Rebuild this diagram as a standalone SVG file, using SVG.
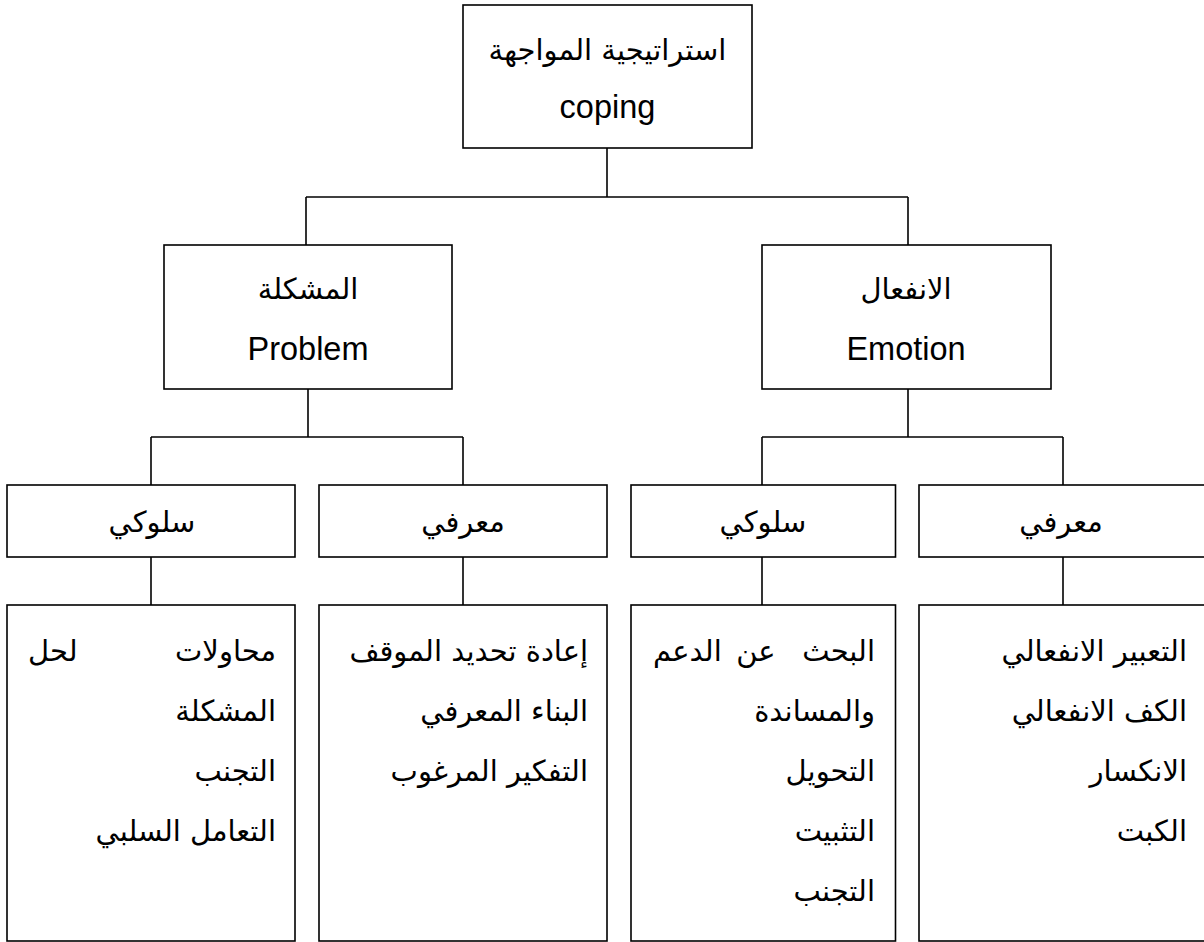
<svg xmlns="http://www.w3.org/2000/svg" width="1204" height="942" viewBox="0 0 1204 942">
<style>
rect.box{fill:#fff;stroke:#000;stroke-width:1.6}
.conn line{stroke:#000;stroke-width:1.6}
.ar{font-family:"DejaVu Sans",sans-serif;font-size:29px;fill:#000}
.en{font-family:"Liberation Sans",Arial,sans-serif;font-size:32.5px;fill:#000}
.c{text-anchor:middle}
.e{text-anchor:end}
.s{text-anchor:start}
</style>
<rect width="1204" height="942" fill="#fff"/>
<g class="conn" id="connectors">
<line x1="607" y1="148" x2="607" y2="197"/>
<line x1="306" y1="197" x2="908" y2="197"/>
<line x1="306" y1="197" x2="306" y2="245"/>
<line x1="908" y1="197" x2="908" y2="245"/>
<line x1="308" y1="389" x2="308" y2="437"/>
<line x1="151" y1="437" x2="463" y2="437"/>
<line x1="151" y1="437" x2="151" y2="485"/>
<line x1="463" y1="437" x2="463" y2="485"/>
<line x1="908" y1="389" x2="908" y2="437"/>
<line x1="762" y1="437" x2="1063" y2="437"/>
<line x1="762" y1="437" x2="762" y2="485"/>
<line x1="1063" y1="437" x2="1063" y2="485"/>
<line x1="151" y1="557" x2="151" y2="605"/>
<line x1="463" y1="557" x2="463" y2="605"/>
<line x1="762" y1="557" x2="762" y2="605"/>
<line x1="1063" y1="557" x2="1063" y2="605"/>
</g>
<g id="root">
<rect class="box" x="463" y="5" width="289" height="143"/>
<text class="ar c" x="607.5" y="60">استراتيجية المواجهة</text>
<text class="en c" x="607.5" y="118">coping</text>
</g>
<g id="problem">
<rect class="box" x="164" y="245" width="288" height="144"/>
<text class="ar c" x="308" y="299">المشكلة</text>
<text class="en c" x="308" y="360">Problem</text>
</g>
<g id="emotion">
<rect class="box" x="762" y="245" width="289" height="144"/>
<text class="ar c" x="906" y="299">الانفعال</text>
<text class="en c" x="906" y="360">Emotion</text>
</g>
<g id="problem-behavioral">
<rect class="box" x="7" y="485" width="288" height="72"/>
<text class="ar c" x="152" y="532">سلوكي</text>
</g>
<g id="problem-cognitive">
<rect class="box" x="319" y="485" width="288" height="72"/>
<text class="ar c" x="463" y="532">معرفي</text>
</g>
<g id="emotion-behavioral">
<rect class="box" x="631" y="485" width="264.5" height="72"/>
<text class="ar c" x="763" y="532">سلوكي</text>
</g>
<g id="emotion-cognitive">
<rect class="box" x="919" y="485" width="290" height="72"/>
<text class="ar c" x="1061" y="532">معرفي</text>
</g>
<g id="problem-behavioral-list">
<rect class="box" x="7" y="605" width="288" height="336"/>
<text class="ar e" x="276" y="661">محاولات</text>
<text class="ar s" x="28" y="661">لحل</text>
<text class="ar e" x="276" y="721">المشكلة</text>
<text class="ar e" x="276" y="781">التجنب</text>
<text class="ar e" x="276" y="841">التعامل السلبي</text>
</g>
<g id="problem-cognitive-list">
<rect class="box" x="319" y="605" width="288" height="336"/>
<text class="ar e" x="588" y="661">إعادة تحديد الموقف</text>
<text class="ar e" x="588" y="721">البناء المعرفي</text>
<text class="ar e" x="588" y="781">التفكير المرغوب</text>
</g>
<g id="emotion-behavioral-list">
<rect class="box" x="631" y="605" width="264.5" height="336"/>
<text class="ar e" x="875" y="661">البحث</text>
<text class="ar c" x="756" y="661">عن</text>
<text class="ar s" x="653" y="661">الدعم</text>
<text class="ar e" x="875" y="721">والمساندة</text>
<text class="ar e" x="875" y="781">التحويل</text>
<text class="ar e" x="875" y="841">التثبيت</text>
<text class="ar e" x="875" y="901">التجنب</text>
</g>
<g id="emotion-cognitive-list">
<rect class="box" x="919" y="605" width="290" height="336"/>
<text class="ar e" x="1187" y="661">التعبير الانفعالي</text>
<text class="ar e" x="1187" y="721">الكف الانفعالي</text>
<text class="ar e" x="1187" y="781">الانكسار</text>
<text class="ar e" x="1187" y="841">الكبت</text>
</g>
</svg>
